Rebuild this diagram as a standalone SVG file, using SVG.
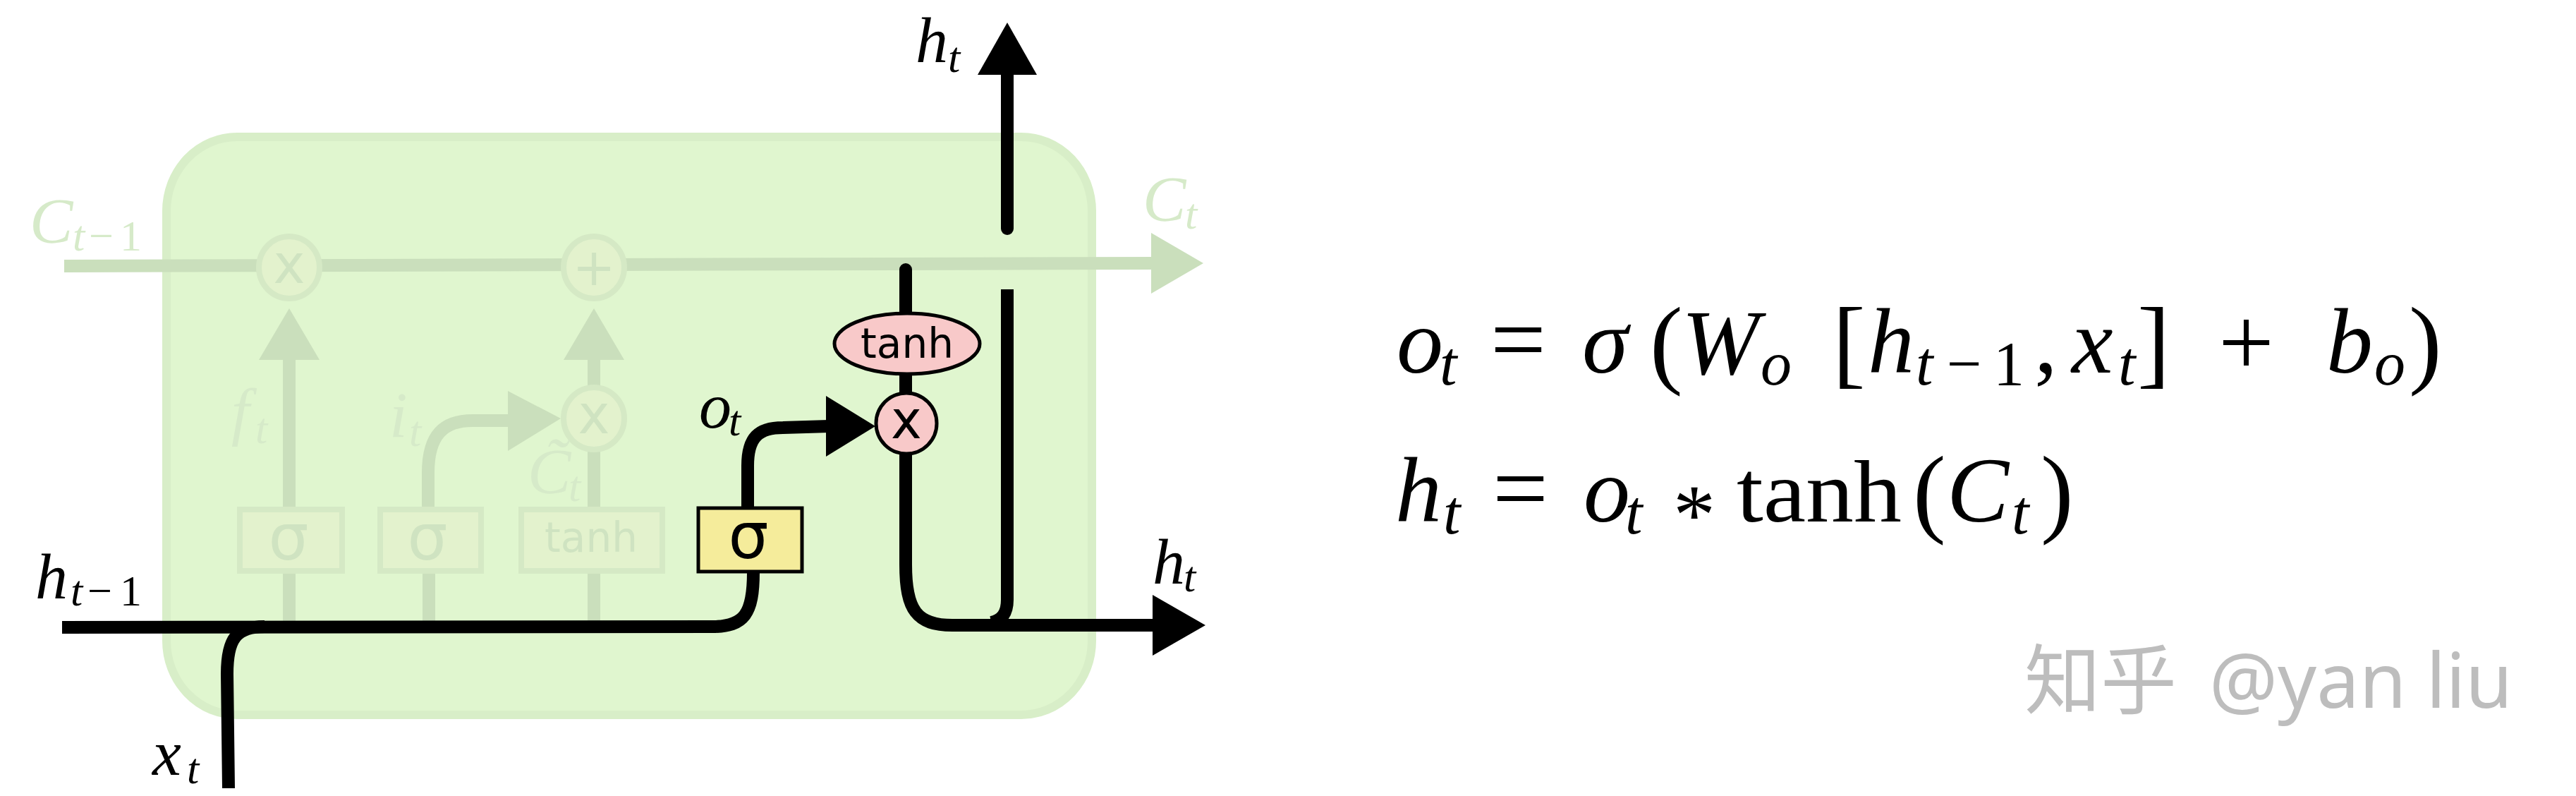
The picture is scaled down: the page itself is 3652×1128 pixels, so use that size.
<svg xmlns="http://www.w3.org/2000/svg" width="3652" height="1128" viewBox="0 0 3652 1128">
<style>
.m{font-family:"Liberation Serif",serif;font-style:italic;font-size:92px;fill:#000}
.s{font-size:62px}
.n{font-style:normal}
.f{fill:#d6eac9}
.u{font-family:"Liberation Serif",serif;fill:#000}
.e{font-family:"Liberation Serif",serif;font-style:italic;font-size:132px;fill:#000}
.es{font-size:88px}
.d{font-family:"DejaVu Sans",sans-serif;text-anchor:middle}
.fl{fill:none;stroke:#cadfbc;stroke-width:18}
.bl{fill:none;stroke:#000;stroke-width:18}
.fa{fill:#cadfbc}
.ba{fill:#000}
.fo{fill:#e3f2cd;stroke:#d5e9c5;stroke-width:8}
.ft{fill:#cfe3c1}
</style>
<rect id="cell" x="236" y="194" width="1312" height="819" rx="100" ry="105" fill="#e0f6cf" stroke="#d8eec8" stroke-width="12"/>
<g id="connectors">
<path class="fl" d="M91 377L1640 373"/>
<polygon class="fa" points="1632,330 1706,373 1632,416"/>
<path class="fl" d="M410 510V719M410 811V880"/>
<polygon class="fa" points="367,510 410,437 453,510"/>
<path class="fl" d="M842 510V719M842 811V880"/>
<polygon class="fa" points="799,510 842,437 885,510"/>
<path class="fl" d="M608 880V811M607 719V670C607 615 630 596 670 596L725 596"/>
<polygon class="fa" points="720,554 795,593 720,639"/>
<path class="bl" d="M88 889L1010 888C1055 888 1068 870 1068 811"/>
<path class="bl" d="M324 1117L322 955C322 905 335 888 375 888"/>
<path class="bl" d="M1060 718V660C1060 620 1075 606 1110 606L1175 604"/>
<polygon class="ba" points="1171,561 1241,604 1171,647"/>
<path class="bl" stroke-linecap="round" d="M1284 382V643"/>
<path class="bl" d="M1284 643V800C1284 865 1300 886 1350 886L1640 886"/>
<polygon class="ba" points="1634,843 1709,886 1634,929"/>
<path class="bl" d="M1428 410V850Q1428 878 1405 882"/>
<path class="bl" stroke-linecap="round" d="M1428 324V100"/>
<polygon class="ba" points="1386,106 1428,32 1470,106"/>
</g>
<g id="node-mul-forget"><ellipse class="fo" cx="410" cy="379" rx="43" ry="44"/><text class="d ft" x="410" y="401" font-size="76">x</text></g>
<g id="node-add"><ellipse class="fo" cx="842" cy="379" rx="43" ry="44"/><text class="d ft" x="842" y="404" font-size="73">+</text></g>
<g id="node-mul-input"><ellipse class="fo" cx="842" cy="593" rx="43" ry="44"/><text class="d ft" x="842" y="614" font-size="76">x</text></g>
<g id="node-sigma-forget"><rect class="fo" x="340" y="722" width="145" height="87" stroke-width="7"/><text class="d ft" x="409" y="793" font-size="90">σ</text></g>
<g id="node-sigma-input"><rect class="fo" x="539" y="722" width="143" height="87" stroke-width="7"/><text class="d ft" x="606" y="793" font-size="90">σ</text></g>
<g id="node-tanh-faded"><rect class="fo" x="739" y="722" width="200" height="87" stroke-width="7"/><text class="d ft" x="838" y="782" font-size="58">tanh</text></g>
<g id="node-sigma-output"><rect x="990" y="720" width="147" height="90" fill="#f5ec9b" stroke="#000" stroke-width="5"/><text class="d" x="1061" y="791" font-size="90">σ</text></g>
<g id="node-tanh"><ellipse cx="1286" cy="487" rx="103" ry="43" fill="#f8c9c9" stroke="#000" stroke-width="5"/><text class="d" x="1286" y="507" font-size="58">tanh</text></g>
<g id="node-mul-output"><ellipse cx="1285" cy="600" rx="43" ry="43" fill="#f8c9c9" stroke="#000" stroke-width="5"/><text class="d" x="1285" y="621" font-size="74">x</text></g>
<g id="labels">
<text class="m f" x="42" y="344">C<tspan class="s" x="103" y="355">t</tspan><tspan class="s n" x="126" y="355">−</tspan><tspan class="s n" x="170" y="355">1</tspan></text>
<text class="m f" x="1620" y="313">C<tspan class="s" x="1680" y="324">t</tspan></text>
<text class="m f" x="328" y="614">f<tspan class="s" x="362" y="628">t</tspan></text>
<text class="m f" x="552" y="619">i<tspan class="s" x="580" y="632">t</tspan></text>
<text class="m f" x="748" y="699">C̃<tspan class="s" x="806" y="710">t</tspan></text>
<text class="m" x="50" y="848">h<tspan class="s" x="100" y="858">t</tspan><tspan class="s n" x="124" y="858">−</tspan><tspan class="s n" x="170" y="858">1</tspan></text>
<text class="m" x="216" y="1098">x<tspan class="s" x="265" y="1110">t</tspan></text>
<text class="m" x="1298" y="88">h<tspan class="s" x="1344" y="102">t</tspan></text>
<text class="m" x="991" y="606">o<tspan class="s" x="1033" y="617">t</tspan></text>
<text class="m" x="1634" y="827">h<tspan class="s" x="1678" y="838">t</tspan></text>
</g>
<g id="equation-1">
<text class="e" x="1980" y="528">o<tspan class="es" x="2041" y="545">t</tspan></text>
<text class="u" x="2113" y="528" font-size="140">=</text>
<text class="e" x="2243" y="528">σ</text>
<text class="u" x="2339" y="532" font-size="140">(</text>
<text class="e" x="2384" y="530">W<tspan class="es" x="2496" y="545">o</tspan></text>
<text class="u" x="2598" y="532" font-size="140">[</text>
<text class="e" x="2648" y="528">h<tspan class="es" x="2716" y="545">t</tspan><tspan class="es n" x="2760" y="545">−</tspan><tspan class="es n" x="2826" y="545">1</tspan></text>
<text class="u" x="2884" y="528" font-size="132">,</text>
<text class="e" x="2937" y="528">x<tspan class="es" x="3003" y="545">t</tspan></text>
<text class="u" x="3030" y="532" font-size="140">]</text>
<text class="u" x="3145" y="532" font-size="140">+</text>
<text class="e" x="3298" y="528">b<tspan class="es" x="3366" y="545">o</tspan></text>
<text class="u" x="3415" y="532" font-size="140">)</text>
</g>
<g id="equation-2">
<text class="e" x="1978" y="739">h<tspan class="es" x="2046" y="756">t</tspan></text>
<text class="u" x="2116" y="739" font-size="140">=</text>
<text class="e" x="2245" y="739">o<tspan class="es" x="2304" y="756">t</tspan></text>
<text class="u" x="2372" y="770" font-size="120">*</text>
<text class="u" x="2462" y="739" font-size="124" textLength="234" lengthAdjust="spacingAndGlyphs">tanh</text>
<text class="u" x="2712" y="743" font-size="140">(</text>
<text class="e" x="2760" y="739">C<tspan class="es" x="2852" y="756">t</tspan></text>
<text class="u" x="2893" y="743" font-size="140">)</text>
</g>
<g id="watermark"><text x="2870" y="1003" font-size="108" fill="#bdbdbd" font-family="'Noto Sans','Noto Sans CJK SC',sans-serif">知乎<tspan x="3132">@yan liu</tspan></text></g>
</svg>
